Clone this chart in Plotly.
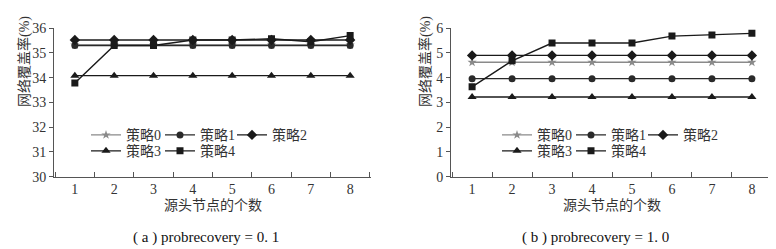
import plotly.graph_objects as go

categories = ["1", "2", "3", "4", "5", "6", "7", "8"]
series_names = ["策略0", "策略1", "策略2", "策略3", "策略4"]

# panel (a) probrecovery = 0.1
a_s0 = [35.32, 35.32, 35.32, 35.32, 35.32, 35.32, 35.32, 35.32]
a_s1 = [35.30, 35.30, 35.30, 35.30, 35.30, 35.30, 35.30, 35.30]
a_s2 = [35.52, 35.52, 35.52, 35.52, 35.52, 35.52, 35.52, 35.52]
a_s3 = [34.08, 34.08, 34.08, 34.08, 34.08, 34.08, 34.08, 34.08]
a_s4 = [33.78, 35.30, 35.30, 35.52, 35.52, 35.57, 35.45, 35.70]

# panel (b) probrecovery = 1.0
b_s0 = [4.62, 4.62, 4.62, 4.62, 4.62, 4.62, 4.62, 4.62]
b_s1 = [3.96, 3.96, 3.96, 3.96, 3.96, 3.96, 3.96, 3.96]
b_s2 = [4.90, 4.90, 4.90, 4.90, 4.90, 4.90, 4.90, 4.90]
b_s3 = [3.22, 3.22, 3.22, 3.22, 3.22, 3.22, 3.22, 3.22]
b_s4 = [3.63, 4.68, 5.40, 5.40, 5.40, 5.68, 5.72, 5.79]

y_title = "网络覆盖率(%)"
x_title = "源头节点的个数"
caption_a = "( a ) probrecovery = 0. 1"
caption_b = "( b ) probrecovery = 1. 0"

W, H = 776, 249
FONT = "Liberation Serif, Noto Sans CJK SC, serif"

symbols = ["star", "circle", "diamond", "triangle-up", "square"]
colors = ["#8a8a8a", "#2a2a2a", "#1a1a1a", "#1a1a1a", "#1a1a1a"]
sizes = [7, 7, 8, 8, 7]

def px_x(p):
    return p / W

def px_y(p):
    return 1 - p / H

# legend text anchor positions (pixels) per panel: (text start x, row y)
leg_pos_a = [(126, 128), (200, 128), (272, 128), (126, 145), (200, 145)]
leg_pos_b = [(537, 128), (611, 128), (683, 128), (537, 145), (611, 145)]

fig = go.Figure()

panels = [
    ("x", "y", [a_s0, a_s1, a_s2, a_s3, a_s4], leg_pos_a, 0),
    ("x2", "y2", [b_s0, b_s1, b_s2, b_s3, b_s4], leg_pos_b, 5),
]
legend_layout = {}
for xa, ya, data, lpos, off in panels:
    for i, (name, vals) in enumerate(zip(series_names, data)):
        k = off + i + 1
        lname = "legend" if k == 1 else f"legend{k}"
        fig.add_trace(go.Scatter(
            x=categories, y=vals, name=name, mode="lines+markers",
            xaxis=xa, yaxis=ya, legend=lname, showlegend=True,
            line=dict(color=colors[i], width=1.4),
            marker=dict(symbol=symbols[i], size=sizes[i], color=colors[i]),
        ))
        tx, ty = lpos[i]
        legend_layout[lname] = dict(
            x=px_x(tx - 48), y=px_y(ty), xanchor="left", yanchor="middle",
            orientation="h", bgcolor="rgba(0,0,0,0)", itemwidth=30, visible=True,
            font=dict(family=FONT, size=14, color="#333"))

axis_common = dict(showline=True, linecolor="#555", linewidth=1, showgrid=False,
                   zeroline=False, tickfont=dict(family=FONT, size=14, color="#333"))

fig.update_layout(
    width=W, height=H, margin=dict(l=0, r=0, t=0, b=0),
    paper_bgcolor="white", plot_bgcolor="white", showlegend=True,
    font=dict(family=FONT, size=14, color="#333"),
    xaxis=dict(domain=[px_x(46), px_x(363)], anchor="y", type="category",
               tickson="boundaries", ticks="inside", ticklen=5, tickcolor="#555", **axis_common),
    yaxis=dict(domain=[px_y(172), px_y(14)], anchor="x", range=[30, 36], dtick=1,
               ticks="outside", ticklen=4, tickcolor="#555", **axis_common),
    xaxis2=dict(domain=[px_x(443), px_x(765)], anchor="y2", type="category",
                tickson="boundaries", ticks="inside", ticklen=5, tickcolor="#555", **axis_common),
    yaxis2=dict(domain=[px_y(172), px_y(14)], anchor="x2", range=[0, 6], dtick=1,
                ticks="outside", ticklen=4, tickcolor="#555", **axis_common),
    **legend_layout,
)

ann = []
for cx, cy_title, xt_x, cap_x, cap in [(17, 50, 205, 198, caption_a), (418, 50, 604, 587, caption_b)]:
    ann.append(dict(x=px_x(cx), y=px_y(cy_title), xref="paper", yref="paper", text=y_title,
                    textangle=-90, showarrow=False, font=dict(family=FONT, size=14, color="#333"),
                    xanchor="center", yanchor="middle"))
    ann.append(dict(x=px_x(xt_x), y=px_y(203), xref="paper", yref="paper", text=x_title,
                    showarrow=False, font=dict(family=FONT, size=14, color="#333"),
                    xanchor="center", yanchor="middle"))
    ann.append(dict(x=px_x(cap_x), y=px_y(237), xref="paper", yref="paper", text=cap,
                    showarrow=False, font=dict(family=FONT, size=15, color="#111"),
                    xanchor="center", yanchor="middle"))
fig.update_layout(annotations=ann)

fig.write_html("out.html")
